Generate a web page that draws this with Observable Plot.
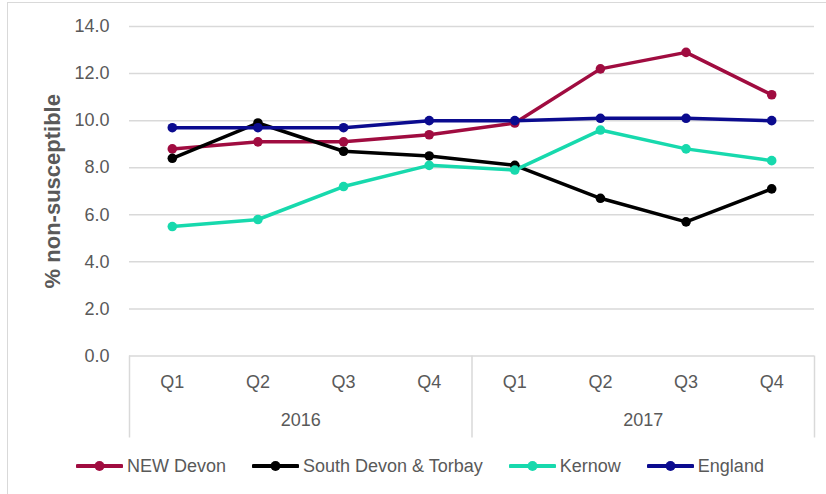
<!DOCTYPE html>
<html>
<head>
<meta charset="utf-8">
<script src="https://cdn.jsdelivr.net/npm/d3@7"></script>
<script src="https://cdn.jsdelivr.net/npm/@observablehq/plot@0.6"></script>
<style>
  html, body { margin: 0; padding: 0; background: #fff; }
  body { width: 826px; height: 494px; position: relative; overflow: hidden;
         font-family: "Liberation Sans", Arial, sans-serif; }
  #border { position: absolute; left: 7px; top: 2px; width: 830px; height: 500px;
            border: 1.5px solid #d9d9d9; box-sizing: border-box; pointer-events: none; }
  #chart svg { display: block; }
  #legend { display: flex; align-items: center; gap: 26px; padding-left: 76px;
            height: 22px; margin-top: 10px; font-size: 18px; color: #595959; }
  .item { display: flex; align-items: center; gap: 4px; white-space: nowrap; }
  .item svg { display: block; }
</style>
</head>
<body>
<div id="chart"></div>
<div id="legend"></div>
<div id="border"></div>
<script>
// Quarterly % non-susceptible, 2016–2017
const quarters = ["Q1", "Q2", "Q3", "Q4", "Q1", "Q2", "Q3", "Q4"];
const years = ["2016", "2017"];
const seriesNames = ["NEW Devon", "South Devon & Torbay", "Kernow", "England"];
const newDevon   = [8.8, 9.1, 9.1, 9.4, 9.9, 12.2, 12.9, 11.1];
const southDevon = [8.4, 9.9, 8.7, 8.5, 8.1, 6.7, 5.7, 7.1];
const kernow     = [5.5, 5.8, 7.2, 8.1, 7.9, 9.6, 8.8, 8.3];
const england    = [9.7, 9.7, 9.7, 10.0, 10.0, 10.1, 10.1, 10.0];
const yTicks = [0, 2, 4, 6, 8, 10, 12, 14];
const colors = ["#a00c40", "#000000", "#17d9ad", "#0b0b8f"];

const values = [newDevon, southDevon, kernow, england];
// Each quarter occupies one unit slot on a linear x scale; points sit at slot centres
const rows = values.flatMap((vals, s) =>
  vals.map((v, i) => ({series: seriesNames[s], slot: i + 0.5, value: v}))
);
const slots = quarters.map((q, i) => ({slot: i + 0.5, label: q}));
const yearSlots = years.map((y, i) => ({slot: i * 4 + 2, label: y}));
const yearEdges = [0, 4, 8];

const grey = "#595959";
const gridColor = "#d9d9d9";

const plot = Plot.plot({
  width: 826,
  height: 445,
  marginLeft: 129,
  marginRight: 12,
  marginTop: 26,
  marginBottom: 89.5,
  style: {fontFamily: '"Liberation Sans", Arial, sans-serif', fontSize: "18px", background: "transparent"},
  x: {domain: [0, 8], axis: null},
  y: {domain: [0, 14], axis: null},
  color: {domain: seriesNames, range: colors},
  marks: [
    Plot.ruleY(yTicks, {stroke: gridColor, strokeWidth: 1.5}),
    // category box below the plot
    Plot.ruleX(yearEdges, {y1: 0, y2: 0, insetBottom: -82, stroke: gridColor, strokeWidth: 1.5}),
    Plot.axisY(yTicks, {tickSize: 0, tickPadding: 20, tickFormat: d3.format(".1f"), fill: grey, fontSize: 18, label: null}),
    Plot.text(["% non-susceptible"], {frameAnchor: "left", textAnchor: "middle", dx: -77, rotate: -90, fill: grey, fontWeight: "bold", fontSize: 22}),
    Plot.text(slots, {x: "slot", y: 0, text: "label", dy: 26, lineAnchor: "middle", fill: grey, fontSize: 18}),
    Plot.text(yearSlots, {x: "slot", y: 0, text: "label", dy: 64, lineAnchor: "middle", fill: grey, fontSize: 18}),
    Plot.line(rows, {x: "slot", y: "value", z: "series", stroke: "series", strokeWidth: 3.5, strokeLinejoin: "round", strokeLinecap: "round"}),
    Plot.dot(rows, {x: "slot", y: "value", fill: "series", r: 4.8, stroke: null})
  ]
});
document.getElementById("chart").appendChild(plot);

// Legend: line-and-marker swatch followed by series name
const legend = d3.select("#legend");
seriesNames.forEach((name, i) => {
  const item = legend.append("div").attr("class", "item");
  const sw = item.append("svg").attr("width", 47).attr("height", 12);
  sw.append("line").attr("x1", 1.5).attr("x2", 45.5).attr("y1", 6).attr("y2", 6)
    .attr("stroke", colors[i]).attr("stroke-width", 4).attr("stroke-linecap", "round");
  sw.append("circle").attr("cx", 23.5).attr("cy", 6).attr("r", 5).attr("fill", colors[i]);
  item.append("span").text(name);
});
</script>
</body>
</html>
